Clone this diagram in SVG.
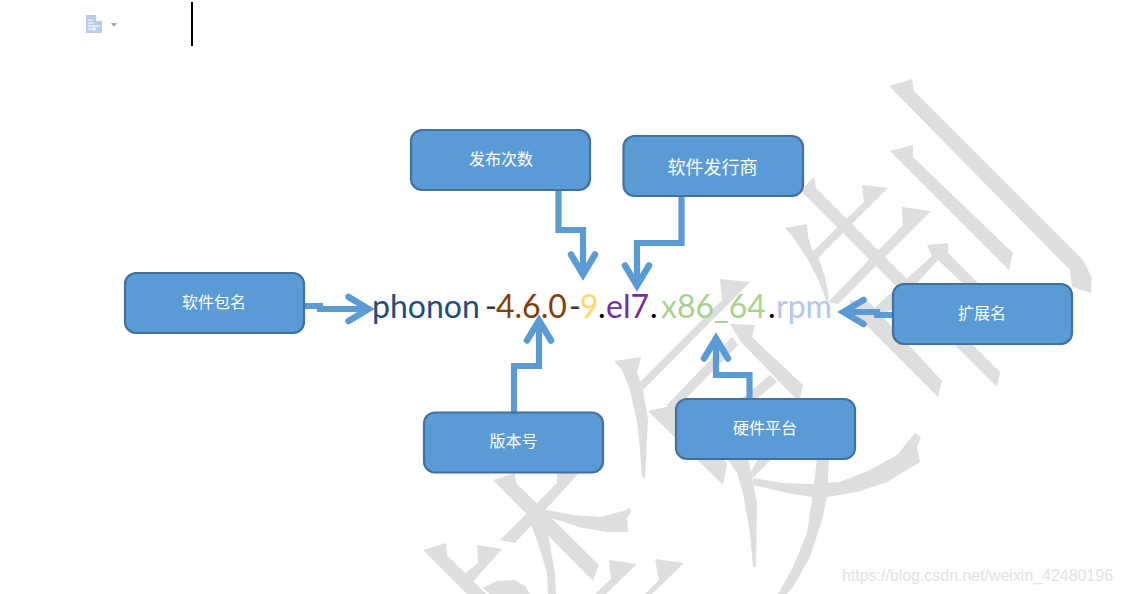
<svg xmlns="http://www.w3.org/2000/svg" width="1123" height="594" viewBox="0 0 1123 594">
<style>
.wm{fill:#dedede;stroke:none}
.box{fill:#5b9bd5;stroke:#41719c;stroke-width:2.2}
.lbl{font-family:"Noto Sans CJK SC","Noto Sans",sans-serif;font-size:16px;fill:#fff;text-anchor:middle;dominant-baseline:central}
.conn{fill:none;stroke:#5b9bd5;stroke-width:6.2;marker-end:url(#arrow)}
.name{font-family:Lato,"Open Sans",sans-serif;font-size:32px}
</style>
<defs>
<marker id="arrow" markerUnits="userSpaceOnUse" orient="auto" overflow="visible" markerWidth="50" markerHeight="40" refX="0" refY="0" viewBox="-30 -20 50 40">
<polyline points="-18.5,-12 1.5,0 -18.5,12" fill="none" stroke="#5b9bd5" stroke-width="6.5" stroke-linecap="round" stroke-linejoin="miter" stroke-miterlimit="6"/>
</marker>
</defs>
<rect width="1123" height="594" fill="#fff"/>
<g id="watermark">
<polygon class="wm" points="889,86 912,79 914,91 1083,260 1092,278 1091,293 1072,287 1070,270 1062,262"/>
<polygon class="wm" points="890,151 913,145 913,157 1013,253 1009,270"/>
<polygon class="wm" points="803,188 814,177 816,188 1000,372 997,387 803,193"/>
<polygon class="wm" points="862,185 888,188 816,260 812,252 864,202"/>
<polygon class="wm" points="902,207 931,211 838,304 828,302 903,225"/>
<polygon class="wm" points="785,228 807,224 808,237 813,252 819,259 825,277 829,298 827,303 825,297 817,277 807,258 793,237"/>
<polygon class="wm" points="927,245 948,243 948,253 1037,342 1025,342 938,260 895,308 878,316 872,310 932,256"/>
<polygon class="wm" points="850,300 868,301 942,381 938,397 850,309"/>
<polygon class="wm" points="614,361 641,357 637,372 643,390 648,420 645,478 642,477 638,427 630,390 622,370"/>
<polygon class="wm" points="720,279 750,282 643,390 639,383 722,300"/>
<polygon class="wm" points="730,324 755,325 752,337 803,385 799,402 741,342"/>
<polygon class="wm" points="732,337 738,345 673,412 667,405"/>
<polygon class="wm" points="770,375 777,382 753,402 742,398"/>
<polygon class="wm" points="648,411 670,406 675,412 727,463 723,485"/>
<polygon class="wm" points="762,452 778,452 753,478 750,473"/>
<polygon class="wm" points="727,458 748,458 757,503 756,567 753,567 750,533 743,493 737,473"/>
<polygon class="wm" points="915,433 921,437 917,447 920,462 887,482 857,492 827,497 812,497 787,493 753,485 753,478 783,483 810,484 840,482 870,470 897,455"/>
<polygon class="wm" points="817,458 829,458 827,497 822,520 810,557 793,587 787,594 778,594 793,567 807,533 813,493"/>
<polygon class="wm" points="493,480 515,473 516,483 599,565 593,581"/>
<polygon class="wm" points="557,472 580,472 515,543 500,540 557,483"/>
<polygon class="wm" points="537,510 547,510 573,515 600,517 623,511 630,508 631,512 627,518 628,532 607,532 583,528 548,517"/>
<polygon class="wm" points="527,515 537,505 545,515 548,535 555,573 556,594 548,594 547,573 537,540"/>
<polygon class="wm" points="423,550 446,543 447,555 486,594 467,594"/>
<polygon class="wm" points="477,545 502,549 470,585 460,578 478,563"/>
<polygon class="wm" points="482,588 497,581 515,580 525,586 530,594 490,594"/>
<polygon class="wm" points="609,560 637,564 606,594 595,594 611,579"/>
<polygon class="wm" points="655,559 684,563 652,594 645,594 659,580"/>
<text x="842" y="581" font-family="'Liberation Sans',Arial,sans-serif" font-size="16" fill="#e2e2e2" textLength="271" lengthAdjust="spacingAndGlyphs">https://blog.csdn.net/weixin_42480196</text>
</g>
<g id="toolbar">
<path d="M86 15H96L102 21V33H86Z" fill="#b9cde9"/>
<path d="M96 15L102 21H96Z" fill="#fff"/>
<path d="M88 20H93M88 23H94M88 26H100M88 29H96M94 26V31" stroke="#fff" stroke-width="1" fill="none"/>
<polygon points="111,23 117,23 115,26 113,26" fill="#aaa"/>
<rect x="191" y="2" width="2" height="44" fill="#000"/>
</g>
<text id="filename" class="name" y="318"><tspan x="372" fill="#1f4e79">phonon</tspan><tspan x="485" fill="#333">-</tspan><tspan x="496" fill="#843c0c">4.6.0</tspan><tspan x="569" fill="#333">-</tspan><tspan x="580" fill="#ffd966">9</tspan><tspan x="598" fill="#000">.</tspan><tspan x="606" fill="#7030a0">el7</tspan><tspan x="650" fill="#000">.</tspan><tspan x="661" fill="#a9d18e">x86_64</tspan><tspan x="768" fill="#000">.</tspan><tspan x="776" fill="#b4c7e7">rpm</tspan></text>
<g id="connectors">
<path class="conn" d="M558.5 190V230H583V273"/>
<path class="conn" d="M681.5 196V243H637V284"/>
<path class="conn" d="M304 306H320V309H367"/>
<path class="conn" d="M514 412V366H539V322"/>
<path class="conn" d="M749.5 398V375H716V340"/>
<path class="conn" d="M892 315H877V312H845"/>
</g>
<g id="node-release"><rect class="box" x="411" y="130" width="179" height="60" rx="11"/><text class="lbl" x="501" y="158">发布次数</text></g>
<g id="node-vendor"><rect class="box" x="623.500" y="136" width="179.500" height="60" rx="11"/><text class="lbl" x="712.500" y="166" style="font-size:18px">软件发行商</text></g>
<g id="node-package"><rect class="box" x="125" y="273" width="179" height="60" rx="11"/><text class="lbl" x="214" y="301">软件包名</text></g>
<g id="node-version"><rect class="box" x="424" y="412.500" width="179" height="60" rx="11"/><text class="lbl" x="513.500" y="440">版本号</text></g>
<g id="node-platform"><rect class="box" x="676" y="399" width="179" height="60" rx="11"/><text class="lbl" x="765" y="427">硬件平台</text></g>
<g id="node-ext"><rect class="box" x="893" y="284" width="179" height="60" rx="11"/><text class="lbl" x="982" y="312">扩展名</text></g>
</svg>
